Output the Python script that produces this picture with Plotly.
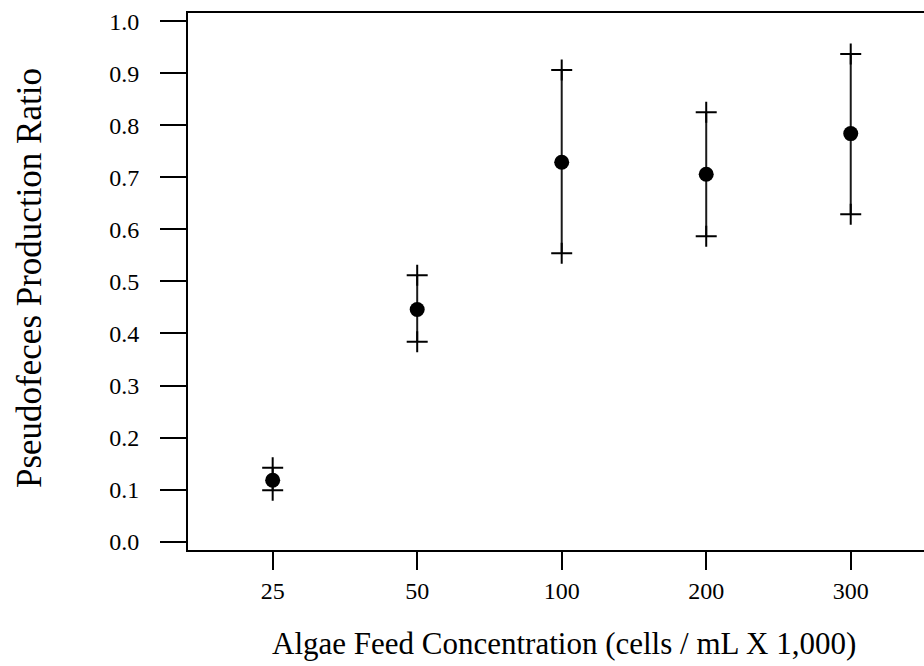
import plotly.graph_objects as go

categories = ["25", "50", "100", "200", "300"]
means = [0.118, 0.446, 0.729, 0.706, 0.784]
upper = [0.142, 0.512, 0.906, 0.825, 0.937]
lower = [0.099, 0.384, 0.554, 0.587, 0.629]
y_ticks = [0.0, 0.1, 0.2, 0.3, 0.4, 0.5, 0.6, 0.7, 0.8, 0.9, 1.0]

FONT = "Liberation Serif"
W, H = 924, 666
L, T, R, B = 188, 13, 0, 116

fig = go.Figure()

fig.add_trace(go.Scatter(
    x=categories, y=means, mode="markers",
    marker=dict(symbol="circle", size=15, color="black"),
    error_y=dict(type="data", symmetric=False,
                 array=[u - m for u, m in zip(upper, means)],
                 arrayminus=[m - l for m, l in zip(means, lower)],
                 width=0, thickness=2, color="#1a1a1a"),
    showlegend=False,
))
fig.add_trace(go.Scatter(
    x=categories + categories, y=upper + lower, mode="markers",
    marker=dict(symbol="cross-thin", size=15, line=dict(width=2, color="black")),
    showlegend=False,
))

fig.update_layout(
    width=W, height=H,
    margin=dict(l=L, r=R, t=T, b=B, autoexpand=False),
    paper_bgcolor="white", plot_bgcolor="white",
    font=dict(family=FONT, color="black"),
    xaxis=dict(type="category", range=[-0.586, 4.507],
               categoryorder="array", categoryarray=categories,
               showline=True, linecolor="black", linewidth=2, mirror=True,
               ticks="outside", ticklen=18, tickwidth=2, tickcolor="black",
               tickfont=dict(family=FONT, size=24), ticklabelstandoff=0,
               showgrid=False, zeroline=False),
    yaxis=dict(range=[-0.016, 1.0157], tickvals=y_ticks,
               ticktext=[f"{v:.1f}" for v in y_ticks],
               showline=True, linecolor="black", linewidth=2, mirror=False,
               ticks="outside", ticklen=26, tickwidth=2, tickcolor="black",
               tickfont=dict(family=FONT, size=24), ticklabelstandoff=16,
               showgrid=False, zeroline=False),
    annotations=[
        dict(text="Algae Feed Concentration (cells / mL X 1,000)",
             xref="paper", yref="paper", x=(564 - L) / (W - L - R),
             y=(H - B - 643) / (H - T - B), xanchor="center", yanchor="middle",
             showarrow=False, font=dict(family=FONT, size=31)),
        dict(text="Pseudofeces Production Ratio",
             xref="paper", yref="paper", x=(29 - L) / (W - L - R),
             y=(H - B - 278) / (H - T - B), xanchor="center", yanchor="middle",
             textangle=-90, showarrow=False, font=dict(family=FONT, size=35)),
    ],
)

fig.write_html("out.html")
